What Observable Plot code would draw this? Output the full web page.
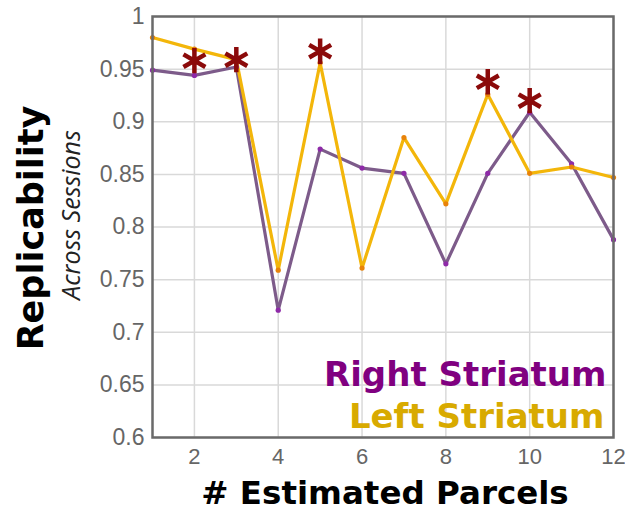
<!DOCTYPE html>
<html><head><meta charset="utf-8">
<script src="https://cdn.jsdelivr.net/npm/d3@7"></script>
<script src="https://cdn.jsdelivr.net/npm/@observablehq/plot@0.6"></script>
<style>body{margin:0;background:#fff}</style>
</head><body><div id="chart"></div>
<script>
const parcels = [1,2,3,4,5,6,7,8,9,10,11,12];
const rightStriatum = [0.949,0.944,0.952,0.721,0.874,0.856,0.851,0.765,0.851,0.909,0.860,0.788];
const leftStriatum  = [0.980,0.969,0.959,0.759,0.956,0.761,0.885,0.822,0.926,0.851,0.857,0.847];
const starParcels = [2,3,5,9,10];
const starValues  = [0.958,0.959,0.967,0.938,0.920];
const xTicks = [2,4,6,8,10,12];
const yTicks = [0.6,0.65,0.7,0.75,0.8,0.85,0.9,0.95,1];
const seriesNames = ["Right Striatum","Left Striatum"];

const right = parcels.map((p,i)=>({p, v:rightStriatum[i]}));
const left = parcels.map((p,i)=>({p, v:leftStriatum[i]}));
const stars = starParcels.map((p,i)=>({p, v:starValues[i]}));

const chart = Plot.plot({
  width: 625, height: 510,
  marginLeft: 152, marginRight: 12, marginTop: 16, marginBottom: 73,
  style: {fontFamily: "Liberation Sans, Arial, sans-serif", background: "#fff"},
  x: {domain: [1,12]},
  y: {domain: [0.6,1]},
  marks: [
    Plot.gridX(xTicks, {stroke: "#d9d9d9", strokeOpacity: 1, strokeWidth: 1.5}),
    Plot.gridY(yTicks, {stroke: "#d9d9d9", strokeOpacity: 1, strokeWidth: 1.5}),
    Plot.axisX({ticks: xTicks, tickSize: 0, tickPadding: 11, fontSize: 22, fill: "#666", label: null}),
    Plot.axisY({ticks: yTicks, tickSize: 0, tickPadding: 8, fontSize: 23, fill: "#666", label: null, tickFormat: d3.format("~g")}),
    Plot.line(right, {x: "p", y: "v", stroke: "#7d5b8a", strokeWidth: 3.2}),
    Plot.line(left, {x: "p", y: "v", stroke: "#f3b60a", strokeWidth: 3.2}),
    Plot.dot(right, {x: "p", y: "v", r: 2.6, fill: "#8e2aa8"}),
    Plot.dot(left, {x: "p", y: "v", r: 2.6, fill: "#e8830a"}),
    Plot.dot(stars, {x: "p", y: "v", symbol: "asterisk", r: 12, stroke: "#8b0a0a", strokeWidth: 4.5}),
    Plot.frame({stroke: "#6a6a6a", strokeWidth: 2.5}),
    Plot.text([seriesNames[0]], {frameAnchor: "bottom-right", dx: -7, dy: -52, text: d => d, fontSize: 34, fontWeight: "bold", fontFamily: "DejaVu Sans", fill: "#800080", textAnchor: "end", lineAnchor: "bottom"}),
    Plot.text([seriesNames[1]], {frameAnchor: "bottom-right", dx: -9, dy: -10, text: d => d, fontSize: 34, fontWeight: "bold", fontFamily: "DejaVu Sans", fill: "#d8aa00", textAnchor: "end", lineAnchor: "bottom"}),
    Plot.text(["# Estimated Parcels"], {frameAnchor: "bottom", dx: 2, dy: 66, text: d => d, fontSize: 32.5, fontWeight: "bold", fontFamily: "DejaVu Sans", fill: "#000", lineAnchor: "bottom"}),
    Plot.text(["Replicability"], {frameAnchor: "left", dx: -110, dy: 1, rotate: -90, text: d => d, fontSize: 35, fontWeight: "bold", fontFamily: "DejaVu Sans", fill: "#000", textAnchor: "middle", lineAnchor: "bottom"}),
    Plot.text(["Across Sessions"], {frameAnchor: "left", dx: -73, dy: -12, rotate: -90, text: d => d, fontSize: 25, fontStyle: "italic", fontFamily: "Open Sans", fill: "#222", textAnchor: "middle", lineAnchor: "bottom"})
  ]
});
document.getElementById("chart").appendChild(chart);
</script>
</body></html>
